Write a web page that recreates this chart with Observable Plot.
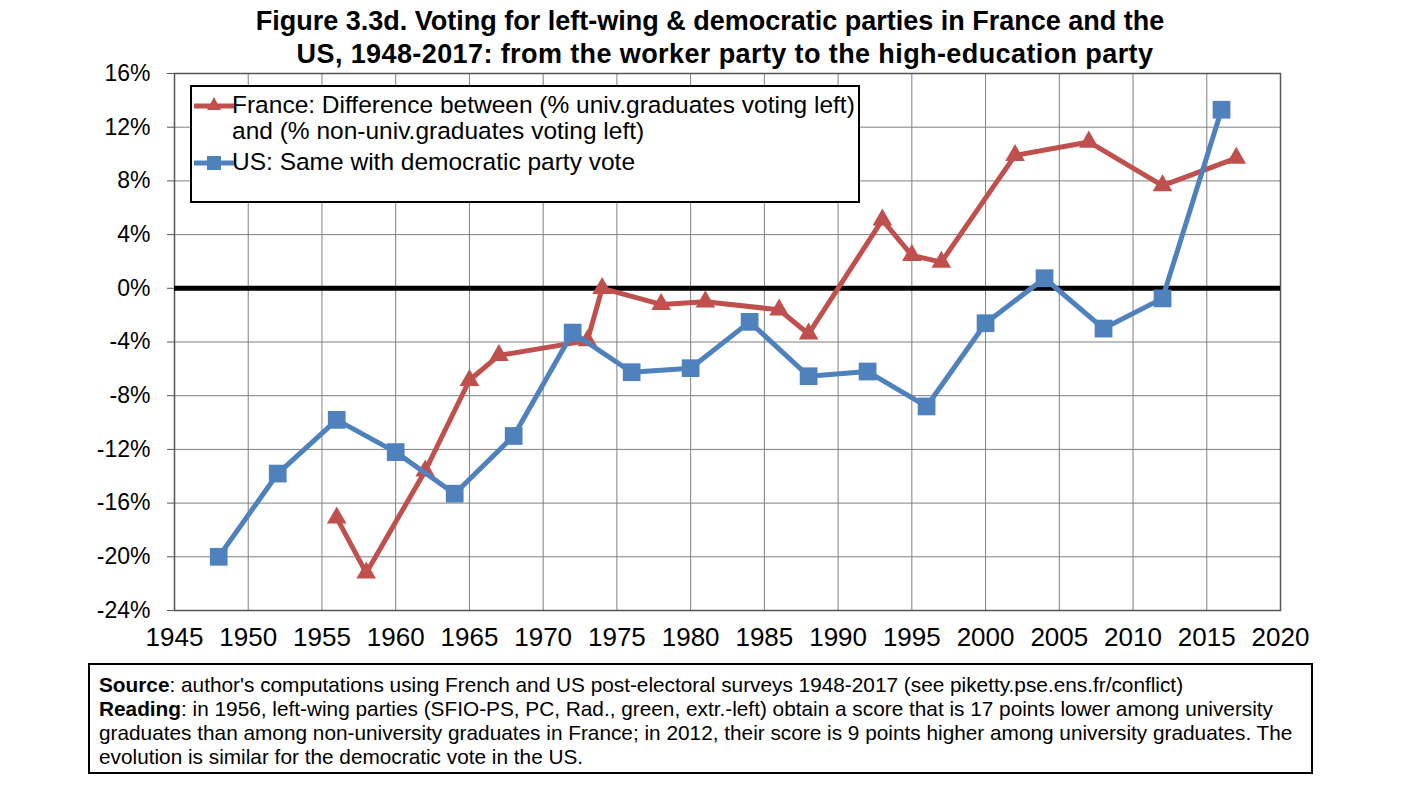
<!DOCTYPE html>
<html>
<head>
<meta charset="utf-8">
<script src="https://cdn.jsdelivr.net/npm/d3@7"></script>
<script src="https://cdn.jsdelivr.net/npm/@observablehq/plot@0.6"></script>
<style>
  body { margin: 0; background: #fff; font-family: "Liberation Sans", Arial, sans-serif; }
  #wrap { position: relative; width: 1420px; height: 811px; overflow: hidden; }
  #title { position: absolute; left: 0; top: 5px; width: 1420px; text-align: center; font-weight: bold; font-size: 27px; line-height: 33px; color: #000; }
  #title span { display: block; }
  #chart { position: absolute; left: 0; top: 0; }
  #legend { position: absolute; left: 190px; top: 85px; width: 670px; height: 118px; border: 2px solid #000; background: #fff; box-sizing: border-box; }
  .lrow { position: absolute; left: 40px; font-size: 24.5px; line-height: 26px; color: #000; white-space: nowrap; }
  .sw { position: absolute; left: 2px; }
  #caption { position: absolute; left: 88px; top: 663px; width: 1225px; height: 111px; border: 2px solid #000; box-sizing: border-box; }
  .cl { position: absolute; left: 9px; font-size: 21px; line-height: 24px; white-space: nowrap; transform-origin: left center; transform: scaleX(0.99); }
</style>
</head>
<body>
<div id="wrap">
  <div id="title"><span>Figure 3.3d. Voting for left-wing &amp; democratic parties in France and the</span><span style="padding-left:30px;letter-spacing:0.4px">US, 1948-2017: from the worker party to the high-education party</span></div>
  <div id="chart"></div>
  <div id="legend"></div>
  <div id="caption"></div>
</div>
<script>
const franceYears = [1956, 1958, 1962, 1965, 1967, 1973, 1974, 1978, 1981, 1986, 1988, 1993, 1995, 1997, 2002, 2007, 2012, 2017];
const franceValues = [-17.1, -21.2, -13.6, -6.85, -5.0, -3.9, 0.0, -1.2, -1.0, -1.6, -3.4, 5.1, 2.45, 1.95, 9.9, 10.9, 7.65, 9.7];
const usYears = [1948, 1952, 1956, 1960, 1964, 1968, 1972, 1976, 1980, 1984, 1988, 1992, 1996, 2000, 2004, 2008, 2012, 2016];
const usValues = [-20.0, -13.8, -9.8, -12.2, -15.3, -11.0, -3.3, -6.25, -5.95, -2.5, -6.55, -6.2, -8.8, -2.6, 0.75, -3.0, -0.75, 13.3];
const xTicks = [1945, 1950, 1955, 1960, 1965, 1970, 1975, 1980, 1985, 1990, 1995, 2000, 2005, 2010, 2015, 2020];
const yTicks = [-24, -20, -16, -12, -8, -4, 0, 4, 8, 12, 16];
const seriesNames = ["France: Difference between (% univ.graduates voting left)", "and (% non-univ.graduates voting left)", "US: Same with democratic party vote"];
const captionLines = [
  ["Source", ": author's computations using French and US post-electoral surveys 1948-2017 (see piketty.pse.ens.fr/conflict)"],
  ["Reading", ": in 1956, left-wing parties (SFIO-PS, PC, Rad., green, extr.-left) obtain a score that is 17 points lower among university"],
  ["", "graduates than among non-university graduates in France; in 2012, their score is 9 points higher among university graduates. The"],
  ["", "evolution is similar for the democratic vote in the US."]
];

const red = "#C0504D", blue = "#4F81BD";
const france = franceYears.map((x, i) => ({x, y: franceValues[i]}));
const us = usYears.map((x, i) => ({x, y: usValues[i]}));

const chart = Plot.plot({
  width: 1420,
  height: 660,
  marginLeft: 174,
  marginRight: 140,
  marginTop: 73,
  marginBottom: 50,
  style: {fontFamily: "Liberation Sans, Arial, sans-serif", fontSize: "24px", color: "#000", background: "transparent"},
  x: {domain: [1945, 2020], label: null},
  y: {domain: [-24, 16], label: null},
  marks: [
    Plot.gridX(xTicks, {stroke: "#7f7f7f", strokeOpacity: 1, strokeWidth: 1}),
    Plot.gridY(yTicks, {stroke: "#7f7f7f", strokeOpacity: 1, strokeWidth: 1}),
    Plot.frame({stroke: "#555", strokeWidth: 1.5}),
    Plot.axisY(yTicks, {label: null, tickSize: 7, tickPadding: 17, tickFormat: d => d + "%", fontSize: 23, stroke: "#555"}),
    Plot.axisX(xTicks, {label: null, tickSize: 0, tickPadding: 17, tickFormat: d => String(d), fontSize: 26}),
    Plot.ruleY([0], {stroke: "#000", strokeWidth: 5}),
    Plot.line(france, {x: "x", y: "y", stroke: red, strokeWidth: 5}),
    Plot.dot(france, {x: "x", y: "y", symbol: "triangle", fill: red, r: 7.3}),
    Plot.line(us, {x: "x", y: "y", stroke: blue, strokeWidth: 5}),
    Plot.dot(us, {x: "x", y: "y", symbol: "square", fill: blue, r: 10})
  ]
});
document.getElementById("chart").appendChild(chart);

// legend
const legend = document.getElementById("legend");
const rows = [
  {text: seriesNames[0], top: 5, color: red, sym: "tri"},
  {text: seriesNames[1], top: 31, color: null},
  {text: seriesNames[2], top: 62, color: blue, sym: "sq"}
];
rows.forEach(r => {
  const d = document.createElement("div");
  d.className = "lrow";
  d.style.top = r.top + "px";
  d.textContent = r.text;
  legend.appendChild(d);
  if (r.color) {
    const ns = "http://www.w3.org/2000/svg";
    const s = document.createElementNS(ns, "svg");
    s.setAttribute("width", 40); s.setAttribute("height", 26);
    s.setAttribute("class", "sw");
    s.style.top = r.top + "px";
    const l = document.createElementNS(ns, "line");
    l.setAttribute("x1", 1); l.setAttribute("x2", 39); l.setAttribute("y1", 14); l.setAttribute("y2", 14);
    l.setAttribute("stroke", r.color); l.setAttribute("stroke-width", 5); l.setAttribute("stroke-linecap", "round");
    s.appendChild(l);
    const m = document.createElementNS(ns, "path");
    m.setAttribute("d", r.sym === "tri" ? "M20,5 L27,18 L13,18 Z" : "M13,7 H27 V21 H13 Z");
    m.setAttribute("fill", r.color);
    s.appendChild(m);
    legend.appendChild(s);
  }
});

// caption
const cap = document.getElementById("caption");
captionLines.forEach((ln, i) => {
  const d = document.createElement("div");
  d.className = "cl";
  d.style.top = (8 + i * 24) + "px";
  if (ln[0]) { const b = document.createElement("b"); b.textContent = ln[0]; d.appendChild(b); }
  d.appendChild(document.createTextNode(ln[1]));
  cap.appendChild(d);
});
</script>
</body>
</html>
